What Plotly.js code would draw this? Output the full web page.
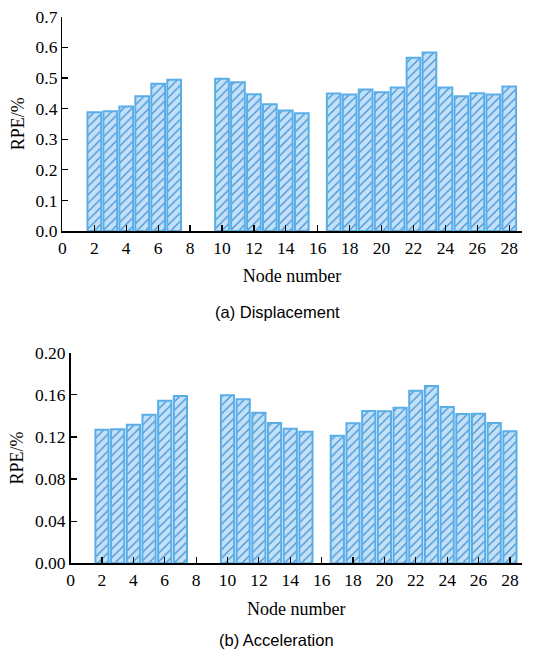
<!DOCTYPE html>
<html>
<head>
<meta charset="utf-8">
<script src="https://cdn.plot.ly/plotly-3.0.1.min.js"></script>
<style>html,body{margin:0;padding:0;background:#fff}#chart{width:540px;height:655px}</style>
</head>
<body>
<div id="chart"></div>
<script>
const nodes = [2,3,4,5,6,7,10,11,12,13,14,15,17,18,19,20,21,22,23,24,25,26,27,28];
const displacementRPE = [0.388,0.391,0.407,0.440,0.481,0.494,0.497,0.486,0.447,0.414,0.394,0.385,0.449,0.446,0.462,0.453,0.469,0.566,0.583,0.469,0.440,0.450,0.446,0.472];
const accelerationRPE = [0.1269,0.1272,0.1316,0.1411,0.1544,0.1589,0.1595,0.1557,0.1430,0.1332,0.1278,0.1250,0.1212,0.1329,0.1446,0.1443,0.1478,0.1639,0.1684,0.1484,0.1418,0.1421,0.1332,0.1253];
const xTitle = 'Node number';
const yTitle = 'RPE/%';
const captionA = '(a) Displacement';
const captionB = '(b) Acceleration';

const W = 540, H = 655;
const serif = 'Liberation Serif';
const sans = 'Liberation Sans';

function barTrace(y, xa, ya, w) {
  return {
    type: 'bar', x: nodes, y: y, xaxis: xa, yaxis: ya, width: w,
    marker: {
      color: '#c3e1f6',
      line: {color: '#5aaee8', width: 2},
      pattern: {shape: '/', fgcolor: '#3d8fd6', bgcolor: '#c3e1f6', size: 6, solidity: 0.2}
    },
    hoverinfo: 'x+y', showlegend: false
  };
}

const axisCommon = {
  showline: true, linecolor: '#000', linewidth: 1.5, mirror: false,
  showgrid: false, zeroline: false, ticks: 'inside', ticklen: 6, tickwidth: 1.2, tickcolor: '#000',
  tickfont: {family: serif, size: 17.5, color: '#000'}, fixedrange: true
};

const layout = {
  width: W, height: H,
  margin: {l: 0, r: 0, t: 0, b: 0},
  paper_bgcolor: '#fff', plot_bgcolor: '#fff',
  font: {family: serif},
  bargap: 0.14,
  xaxis: Object.assign({}, axisCommon, {
    domain: [62.4/W, 521.7/W], anchor: 'y', range: [0, 28.78], tick0: 0, dtick: 2,
    title: {text: xTitle, font: {family: serif, size: 18, color: '#000'}, standoff: 13}
  }),
  yaxis: Object.assign({}, axisCommon, {
    domain: [1-231/H, 1-16.7/H], anchor: 'x', range: [0, 0.7], tick0: 0, dtick: 0.1, tickformat: '.1f',
    title: {text: yTitle, font: {family: serif, size: 18, color: '#000'}, standoff: 6}
  }),
  xaxis2: Object.assign({}, axisCommon, {
    domain: [70.6/W, 521.7/W], anchor: 'y2', range: [0, 28.75], tick0: 0, dtick: 2,
    title: {text: xTitle, font: {family: serif, size: 18, color: '#000'}, standoff: 13}
  }),
  yaxis2: Object.assign({}, axisCommon, {
    domain: [1-563.3/H, 1-352.7/H], anchor: 'x2', range: [0, 0.2], tick0: 0, dtick: 0.04, tickformat: '.2f',
    title: {text: yTitle, font: {family: serif, size: 18, color: '#000'}, standoff: 6}
  }),
  annotations: [
    {text: captionA, xref: 'paper', yref: 'paper', x: 277/W, y: 1-312/H, xanchor: 'center', yanchor: 'middle',
     showarrow: false, font: {family: sans, size: 16.5, color: '#000'}},
    {text: captionB, xref: 'paper', yref: 'paper', x: 276/W, y: 1-640/H, xanchor: 'center', yanchor: 'middle',
     showarrow: false, font: {family: sans, size: 16.5, color: '#000'}}
  ]
};

Plotly.newPlot('chart', [
  barTrace(displacementRPE, 'x', 'y', 0.86),
  barTrace(accelerationRPE, 'x2', 'y2', 0.84)
], layout, {displayModeBar: false, staticPlot: true});
</script>
</body>
</html>
